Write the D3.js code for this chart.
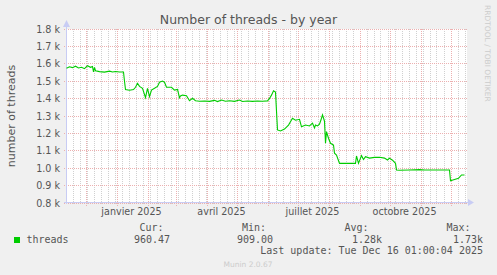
<!DOCTYPE html>
<html>
<head>
<meta charset="utf-8">
<script src="https://cdn.jsdelivr.net/npm/d3@7"></script>
<style>
  html, body { margin: 0; padding: 0; background: #f0f0f0; }
  svg { display: block; }
</style>
</head>
<body>
<div id="chart"></div>
<script>
// données (moyennes journalières)
const dates = [
  "2024-11-12", "2024-11-15", "2024-11-18", "2024-11-21", "2024-11-24", "2024-11-27", "2024-11-30",
  "2024-12-03", "2024-12-06", "2024-12-08", "2024-12-09", "2024-12-10", "2024-12-11", "2024-12-15",
  "2024-12-20", "2024-12-25", "2024-12-28", "2024-12-31", "2025-01-04", "2025-01-08", "2025-01-09",
  "2025-01-10", "2025-01-14", "2025-01-18", "2025-01-20", "2025-01-22", "2025-01-24", "2025-01-27",
  "2025-01-30", "2025-02-01", "2025-02-03", "2025-02-05", "2025-02-08", "2025-02-11", "2025-02-13",
  "2025-02-16", "2025-02-18", "2025-02-20", "2025-02-25", "2025-02-28", "2025-03-03", "2025-03-05",
  "2025-03-06", "2025-03-08", "2025-03-12", "2025-03-15", "2025-03-18", "2025-03-21", "2025-03-25",
  "2025-03-30", "2025-04-04", "2025-04-09", "2025-04-12", "2025-04-16", "2025-04-20", "2025-04-24",
  "2025-04-29", "2025-05-04", "2025-05-07", "2025-05-12", "2025-05-17", "2025-05-22", "2025-05-27",
  "2025-06-01", "2025-06-03", "2025-06-05", "2025-06-07", "2025-06-09", "2025-06-11", "2025-06-14",
  "2025-06-18", "2025-06-22", "2025-06-26", "2025-06-29", "2025-07-03", "2025-07-05", "2025-07-09",
  "2025-07-13", "2025-07-16", "2025-07-18", "2025-07-19", "2025-07-21", "2025-07-23", "2025-07-25",
  "2025-07-26", "2025-07-28", "2025-07-29", "2025-07-30", "2025-08-01", "2025-08-03", "2025-08-06",
  "2025-08-07", "2025-08-09", "2025-08-12", "2025-08-19", "2025-08-28", "2025-08-29", "2025-08-31",
  "2025-09-03", "2025-09-05", "2025-09-07", "2025-09-11", "2025-09-16", "2025-09-21", "2025-09-26",
  "2025-09-29", "2025-10-01", "2025-10-04", "2025-10-07", "2025-10-08", "2025-10-11", "2025-10-21",
  "2025-10-31", "2025-11-05", "2025-11-20", "2025-11-30", "2025-12-01", "2025-12-05", "2025-12-09",
  "2025-12-12", "2025-12-15"
];
const threads = [
  1574, 1583, 1578, 1586, 1576, 1580, 1572,
  1589, 1580, 1585, 1553, 1580, 1560, 1555,
  1552, 1558, 1553, 1556, 1553, 1553, 1500,
  1452, 1448, 1452, 1465, 1488, 1470, 1459,
  1405, 1459, 1411, 1449, 1459, 1470, 1494,
  1501, 1494, 1465, 1465, 1449, 1453, 1405,
  1415, 1420, 1416, 1388, 1402, 1388, 1385,
  1386, 1384, 1390, 1383, 1392, 1385, 1388,
  1384, 1392, 1383, 1386, 1384, 1386, 1385,
  1387, 1401, 1420, 1445, 1437, 1220, 1214,
  1225, 1248, 1287, 1276, 1281, 1238, 1248,
  1243, 1259, 1231, 1248, 1243, 1253, 1287,
  1306, 1270, 1143, 1210, 1172, 1143, 1133,
  1086, 1076, 1028, 1028, 1028, 1070, 1028,
  1072, 1050, 1066, 1058, 1062, 1063, 1058,
  1047, 1058, 1046, 1028, 990, 988, 990,
  992, 990, 990, 990, 928, 935, 942,
  961, 961
];
const yTicks = [800, 900, 1000, 1100, 1200, 1300, 1400, 1500, 1600, 1700, 1800];
const legendLabels = ["Cur:", "Min:", "Avg:", "Max:"];
const legendValues = ["960.47", "909.00", "1.28k", "1.73k"];

const W = 497, H = 275;
const plot = { left: 67, top: 29, width: 400, height: 174 };

const parse = d3.timeParse("%Y-%m-%d");
const series = dates.map((d, i) => ({ date: parse(d), value: threads[i] }));

// 400 jours sur 400 pixels
const x = d3.scaleTime()
    .domain([new Date(2024, 10, 12, 12), new Date(2025, 11, 17, 12)])
    .range([plot.left, plot.left + plot.width]);
const y = d3.scaleLinear()
    .domain([800, 1800])
    .range([plot.top + plot.height, plot.top]);

const px = v => Math.round(v) + 0.5;

const svg = d3.select("#chart").append("svg")
    .attr("width", W).attr("height", H)
    .style("font-family", "'DejaVu Sans', sans-serif");

svg.append("rect").attr("width", W).attr("height", H).attr("fill", "#f0f0f0");
svg.append("rect")
    .attr("x", plot.left).attr("y", plot.top)
    .attr("width", plot.width).attr("height", plot.height)
    .attr("fill", "#ffffff");

// grille
const grid = svg.append("g").attr("shape-rendering", "crispEdges");
const [t0, t1] = x.domain();
const months = d3.timeMonth.range(d3.timeMonth.ceil(t0), t1);
const mondays = d3.timeMonday.range(t0, t1)
    .filter(d => !months.some(m => Math.abs(x(m) - x(d)) < 1));

grid.selectAll(".minor").data(mondays).join("line")
    .attr("x1", d => px(x(d))).attr("x2", d => px(x(d)))
    .attr("y1", plot.top).attr("y2", plot.top + plot.height + 2)
    .attr("stroke", "#d0d0d0").attr("stroke-dasharray", "1,1");

grid.selectAll(".major-x").data(months).join("line")
    .attr("x1", d => px(x(d))).attr("x2", d => px(x(d)))
    .attr("y1", plot.top).attr("y2", plot.top + plot.height + 3)
    .attr("stroke", "#ecb0b0").attr("stroke-dasharray", "1,1");

grid.selectAll(".major-y").data(yTicks).join("line")
    .attr("x1", plot.left - 3).attr("x2", plot.left + plot.width)
    .attr("y1", d => px(y(d) - 0.5)).attr("y2", d => px(y(d) - 0.5))
    .attr("stroke", "#ecb0b0").attr("stroke-dasharray", "1,1");

// axes
const axisColor = "#c8ccf4";
grid.append("line")
    .attr("x1", plot.left - 0.5).attr("x2", plot.left - 0.5)
    .attr("y1", plot.top - 4).attr("y2", plot.top + plot.height + 1)
    .attr("stroke", axisColor);
grid.append("line")
    .attr("x1", plot.left - 3).attr("x2", plot.left + plot.width + 4)
    .attr("y1", plot.top + plot.height - 0.5).attr("y2", plot.top + plot.height - 0.5)
    .attr("stroke", axisColor);
svg.append("path")
    .attr("d", `M${plot.left - 4},${plot.top - 2}L${plot.left - 0.5},${plot.top - 9}L${plot.left + 3},${plot.top - 2}Z`)
    .attr("fill", axisColor);
svg.append("path")
    .attr("d", `M${plot.left + plot.width + 1},${plot.top + plot.height - 4}L${plot.left + plot.width + 7},${plot.top + plot.height - 0.5}L${plot.left + plot.width + 1},${plot.top + plot.height + 3}Z`)
    .attr("fill", axisColor);

// courbe
svg.append("path")
    .datum(series)
    .attr("d", d3.line().x(d => x(d.date)).y(d => y(d.value)))
    .attr("fill", "none")
    .attr("stroke", "#00cc00")
    .attr("stroke-width", 1.1);

// libellés des axes
const fmtK = v => d3.format(".1f")(v / 1000) + " k";
svg.append("g").selectAll("text").data(yTicks).join("text")
    .attr("x", plot.left - 7).attr("y", d => y(d) + 3.5)
    .attr("text-anchor", "end")
    .attr("font-size", 9.6).attr("fill", "#555")
    .text(fmtK);

const fmtMonth = d3.timeFormatLocale({
  dateTime: "%A %e %B %Y à %X", date: "%d/%m/%Y", time: "%H:%M:%S",
  periods: ["AM", "PM"],
  days: ["dimanche", "lundi", "mardi", "mercredi", "jeudi", "vendredi", "samedi"],
  shortDays: ["dim.", "lun.", "mar.", "mer.", "jeu.", "ven.", "sam."],
  months: ["janvier", "février", "mars", "avril", "mai", "juin", "juillet", "août", "septembre", "octobre", "novembre", "décembre"],
  shortMonths: ["janv.", "févr.", "mars", "avr.", "mai", "juin", "juil.", "août", "sept.", "oct.", "nov.", "déc."]
}).format("%B %Y");
const labelMonths = months.filter(m => m.getMonth() % 3 === 0);
svg.append("g").selectAll("text").data(labelMonths).join("text")
    .attr("x", d => x(d3.timeDay.offset(d, 15)))
    .attr("y", 214.5)
    .attr("text-anchor", "middle")
    .attr("font-size", 9.6).attr("fill", "#555")
    .text(fmtMonth);

// titres
svg.append("text")
    .attr("x", 248.5).attr("y", 23.5)
    .attr("text-anchor", "middle")
    .attr("font-size", 12.5).attr("fill", "#555")
    .text("Number of threads - by year");
svg.append("text")
    .attr("transform", `translate(15,${plot.top + plot.height / 2}) rotate(-90)`)
    .attr("text-anchor", "middle")
    .attr("font-size", 11).attr("fill", "#555")
    .text("number of threads");
svg.append("text")
    .attr("transform", "translate(484.5,5) rotate(90)")
    .attr("font-size", 7.5).attr("fill", "#cccccc")
    .text("RRDTOOL / TOBI OETIKER");

// légende
const mono = "'DejaVu Sans Mono', monospace";
svg.append("rect")
    .attr("x", 14).attr("y", 237).attr("width", 6).attr("height", 6)
    .attr("fill", "#00cc00");
svg.append("text")
    .attr("x", 26.5).attr("y", 242.5)
    .attr("font-family", mono).attr("font-size", 10).attr("fill", "#555")
    .text("threads");

const labelEnds = [163.5, 266, 368.5, 470.5];
const valueEnds = [170, 273, 382, 483];
svg.append("g").selectAll("text").data(legendLabels).join("text")
    .attr("x", (d, i) => labelEnds[i]).attr("y", 231)
    .attr("text-anchor", "end")
    .attr("font-family", mono).attr("font-size", 10).attr("fill", "#555")
    .text(d => d);
svg.append("g").selectAll("text").data(legendValues).join("text")
    .attr("x", (d, i) => valueEnds[i]).attr("y", 242.5)
    .attr("text-anchor", "end")
    .attr("font-family", mono).attr("font-size", 10).attr("fill", "#555")
    .text(d => d);
svg.append("text")
    .attr("x", 483).attr("y", 254)
    .attr("text-anchor", "end")
    .attr("font-family", mono).attr("font-size", 10).attr("fill", "#555")
    .text("Last update: Tue Dec 16 01:00:04 2025");
svg.append("text")
    .attr("x", 248).attr("y", 266.5)
    .attr("text-anchor", "middle")
    .attr("font-size", 7.5).attr("fill", "#cccccc")
    .text("Munin 2.0.67");
</script>
</body>
</html>
